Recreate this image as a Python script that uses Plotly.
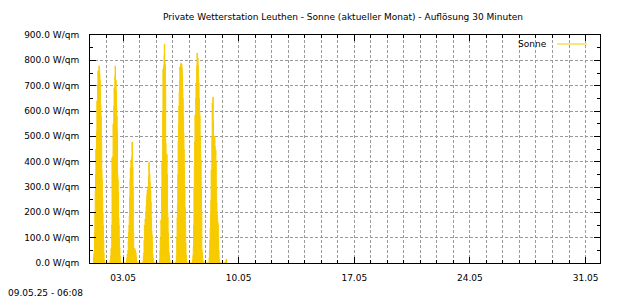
import plotly.graph_objects as go
import pandas as pd

# Half-hourly solar radiation (W/qm), samples from 05:00 to 20:30 each day
day_dates = ["2025-05-01", "2025-05-02", "2025-05-03", "2025-05-04",
             "2025-05-05", "2025-05-06", "2025-05-07", "2025-05-08"]

sonne_0501 = [20, 35, 49, 120, 200, 284, 350, 450, 410, 520, 640, 600, 700, 758, 740, 760,
              778, 765, 746, 720, 680, 624, 580, 480, 367, 330, 260, 197, 150, 90, 40, 12]
sonne_0502 = [10, 12, 30, 58, 45, 150, 416, 300, 420, 549, 500, 620, 692, 650, 740, 778,
              700, 722, 680, 616, 580, 520, 351, 330, 280, 178, 150, 100, 60, 28, 10, 2]
sonne_0503 = [10, 20, 35, 30, 50, 87, 120, 150, 185, 260, 330, 376, 300, 407, 380, 420,
              478, 440, 379, 300, 120, 47, 40, 59, 55, 45, 49, 40, 25, 12, 5, 2]
sonne_0504 = [10, 28, 40, 90, 150, 130, 174, 160, 200, 225, 250, 270, 288, 260, 301, 290,
              340, 397, 370, 351, 320, 300, 284, 240, 180, 126, 110, 80, 35, 20, 8, 2]
sonne_0505 = [15, 50, 97, 80, 170, 150, 300, 397, 350, 600, 766, 700, 780, 820, 864, 800,
              785, 700, 474, 420, 380, 429, 350, 201, 180, 120, 80, 43, 30, 12, 8, 2]
sonne_0506 = [10, 32, 100, 180, 233, 350, 482, 550, 620, 675, 720, 774, 760, 780, 789, 770,
              785, 770, 740, 689, 650, 580, 513, 450, 380, 292, 220, 150, 80, 32, 12, 2]
sonne_0507 = [12, 30, 63, 150, 300, 380, 480, 584, 560, 650, 711, 700, 780, 829, 800, 809,
              780, 740, 711, 650, 600, 580, 500, 440, 407, 300, 200, 51, 40, 20, 8, 2]
sonne_0508 = [20, 51, 90, 140, 189, 250, 367, 330, 500, 632, 600, 655, 560, 407, 380, 420,
              501, 460, 420, 446, 400, 300, 240, 193, 175, 162, 150, 100, 50, 15, 5, 1]
# last (partial) day: 05:00 - 06:00
sonne_0509 = [5, 12, 15]

day_series = [sonne_0501, sonne_0502, sonne_0503, sonne_0504,
              sonne_0505, sonne_0506, sonne_0507, sonne_0508]

title_text = "Private Wetterstation Leuthen - Sonne (aktueller Monat) - Auflösung 30 Minuten"
stamp_text = "09.05.25 - 06:08"
series_name = "Sonne"

YELLOW = "#F7CB00"

xs, ys = [], []
def add_day(date, vals):
    start = pd.Timestamp(date + " 05:00")
    xs.append(start - pd.Timedelta(minutes=30)); ys.append(0)
    for i, v in enumerate(vals):
        xs.append(start + pd.Timedelta(minutes=30 * i)); ys.append(v)
    xs.append(start + pd.Timedelta(minutes=30 * len(vals))); ys.append(0)

for d, v in zip(day_dates, day_series):
    add_day(d, v)
add_day("2025-05-09", sonne_0509)

fig = go.Figure()
fig.add_trace(go.Scatter(x=xs, y=ys, mode="lines", line=dict(width=1, shape="hv", color=YELLOW),
                         fill="tozeroy", fillcolor=YELLOW, name=series_name, hoverinfo="skip"))

grid_col = "#9a9a9a"
gdash = "3px,2px"
fig.update_layout(
    width=620, height=300,
    margin=dict(l=90, r=20, t=35, b=37),
    paper_bgcolor="white", plot_bgcolor="white",
    font=dict(family="DejaVu Sans", size=9, color="black"),
    showlegend=False,
    title=dict(text=title_text, xref="container", x=343 / 620, xanchor="center",
               yref="container", y=1 - 17 / 300, yanchor="middle",
               font=dict(size=9, family="DejaVu Sans", color="black")),
)
fig.update_xaxes(
    type="date", range=["2025-05-01 00:00", "2025-05-31 21:00"],
    tickmode="linear", tick0="2025-05-03", dtick=7 * 86400000, tickformat="%d.%m",
    ticks="inside", ticklen=6, tickcolor="black", tickwidth=1,
    showline=True, linecolor="black", linewidth=1, mirror="ticks",
    showgrid=True, gridcolor=grid_col, griddash=gdash, gridwidth=1,
    minor=dict(dtick=86400000, tick0="2025-05-03", ticks="inside", ticklen=3, tickcolor="black",
               showgrid=True, gridcolor=grid_col, griddash=gdash, gridwidth=1),
    ticklabelstandoff=6, zeroline=False,
)
fig.update_yaxes(
    range=[0, 900], tickmode="linear", tick0=0, dtick=100, tickformat=".1f", ticksuffix=" W/qm",
    ticks="inside", ticklen=6, tickcolor="black", tickwidth=1,
    showline=True, linecolor="black", linewidth=1, mirror="ticks",
    showgrid=True, gridcolor=grid_col, griddash=gdash, gridwidth=1,
    minor=dict(dtick=50, ticks="inside", ticklen=3, tickcolor="black", showgrid=False),
    ticklabelstandoff=8, zeroline=False,
)

fig.add_annotation(text=stamp_text, xref="paper", yref="paper",
                   x=(6 - 90) / 510, y=(263 - 293) / 228, xanchor="left", yanchor="middle",
                   showarrow=False, font=dict(size=9))
fig.add_annotation(text=series_name, xref="paper", yref="paper",
                   x=(549 - 90) / 510, y=(263 - 44) / 228, xanchor="right", yanchor="middle",
                   showarrow=False, font=dict(size=9))
fig.add_shape(type="line", xref="paper", yref="paper",
              x0=(557 - 90) / 510, x1=(587 - 90) / 510,
              y0=(263 - 44) / 228, y1=(263 - 44) / 228,
              line=dict(color=YELLOW, width=1))

fig.write_html("out.html")
